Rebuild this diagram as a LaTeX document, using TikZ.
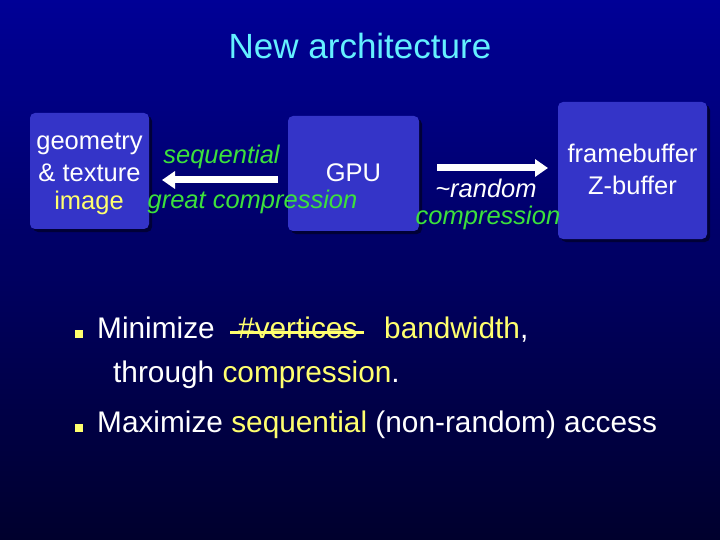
\documentclass[tikz,border=0pt]{standalone}
\usepackage{fontspec}
\setmainfont{Liberation Sans}
\usetikzlibrary{arrows.meta,shadows}
\definecolor{bgtop}{RGB}{0,0,150}
\definecolor{bgbot}{RGB}{0,0,45}
\definecolor{boxc}{RGB}{52,52,200}
\definecolor{shad}{RGB}{0,0,55}
\definecolor{grn}{RGB}{60,225,60}
\definecolor{ylw}{RGB}{255,255,110}
\definecolor{cyn}{RGB}{100,240,255}
\begin{document}
\begin{tikzpicture}[x=1pt,y=-1pt,
  boxnode/.style={fill=boxc, rounded corners=5pt, inner sep=0pt,
    drop shadow={shadow xshift=3pt, shadow yshift=-3pt, fill=shad, opacity=1}},
  lbl/.style={anchor=base, inner sep=0pt, font=\fontsize{25.5}{30}\selectfont, text=white},
  glbl/.style={lbl, text=grn, font=\fontsize{25.5}{30}\selectfont\itshape},
  btxt/.style={anchor=base west, inner sep=0pt, font=\fontsize{29.8}{34}\selectfont, text=white},
  bul/.style={fill=ylw, inner sep=0pt, minimum size=8pt},
  fat/.style={draw=white, line width=7pt, -{Triangle[length=13pt,width=17pt]}}]
\shade[top color=bgtop,bottom color=bgbot] (0,0) rectangle (720,540);
\useasboundingbox (0,0) rectangle (720,540);
% title
\node[anchor=base, inner sep=0pt, text=cyn, font=\fontsize{35}{40}\selectfont] (title) at (360,59) {New architecture};
% boxes
\node[boxnode, minimum width=119pt, minimum height=116pt] (b1) at (89.5,171) {};
\node[boxnode, minimum width=131pt, minimum height=115pt] (b2) at (353.5,173.5) {};
\node[boxnode, minimum width=149pt, minimum height=137pt] (b3) at (632.5,170.5) {};
% box texts
\node[lbl] (geo) at (89.5,150) {geometry};
\node[lbl] (tex) at (89.5,182) {\& texture};
\node[lbl, text=ylw] (img) at (89,210) {image};
\node[lbl] (gpu) at (353.5,182) {GPU};
\node[lbl] (fb) at (632.5,163) {framebuffer};
\node[lbl] (zb) at (632.5,195) {Z-buffer};
% arrow labels
\node[glbl] (seq) at (221.5,164) {sequential};
\node[glbl] (gc) at (252.5,208) {great compression};
\node[lbl, font=\fontsize{25.5}{30}\selectfont\itshape] (rnd) at (486,197) {\textasciitilde random};
\node[glbl] (cmp) at (488,225) {compression};
% arrows
\coordinate (a1s) at (278,180);
\coordinate (a1e) at (162,180);
\coordinate (a2s) at (437,168);
\coordinate (a2e) at (548,168);
\draw[fat] (a1s) -- (a1e);
\draw[fat] (a2s) -- (a2e);
% bullets
\node[bul] (bu1) at (79,334) {};
\node[bul] (bu2) at (79,428) {};
\node[btxt] (min) at (97,338) {Minimize};
\node[btxt, text=ylw] (vert) at (238,338) {\#vertices};
\draw[ylw, line width=3pt] ([shift={(-8,-6)}]vert.base west) -- ([shift={(6,-6)}]vert.base east);
\node[btxt] (bw) at (384,338) {\textcolor{ylw}{bandwidth},};
\node[btxt] (thr) at (113,382) {through \textcolor{ylw}{compression}.};
\node[btxt] (max) at (97,432) {Maximize \textcolor{ylw}{sequential} (non-random) access};
\end{tikzpicture}
\end{document}
